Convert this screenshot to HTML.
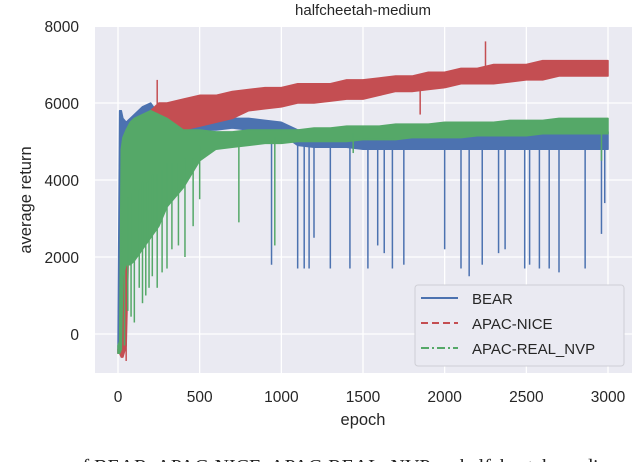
<!DOCTYPE html>
<html><head><meta charset="utf-8"><style>
html,body{margin:0;padding:0;background:#fff;width:640px;height:462px;overflow:hidden}
svg text{font-family:"Liberation Sans",sans-serif}
</style></head><body>
<svg id="chart" width="640" height="462">
<rect x="95" y="27" width="537" height="346" fill="#eaeaf2"/>
<g id="grid"></g>
<g id="series"></g>
<g id="ticks" font-size="15.5" fill="#262626"></g>
<text x="363" y="15" text-anchor="middle" font-size="15" fill="#262626">halfcheetah-medium</text>
<text x="363" y="425" text-anchor="middle" font-size="16.5" fill="#262626">epoch</text>
<text transform="translate(31,200) rotate(-90)" text-anchor="middle" font-size="16.5" fill="#262626">average return</text>
<g>
<rect x="415" y="285" width="209" height="81" rx="3" fill="#eaeaf2" stroke="#cfcfd6"/>
<line x1="421" y1="298" x2="458" y2="298" stroke="#4c72b0" stroke-width="2"/>
<text x="472" y="304" font-size="15" fill="#262626">BEAR</text>
<line x1="421" y1="323" x2="458" y2="323" stroke="#c44e52" stroke-width="2" stroke-dasharray="7,4"/>
<text x="472" y="329" font-size="15" fill="#262626">APAC-NICE</text>
<line x1="421" y1="348" x2="458" y2="348" stroke="#55a868" stroke-width="2" stroke-dasharray="8,3,2,3"/>
<text x="472" y="354" font-size="15" fill="#262626">APAC-REAL_NVP</text>
</g>
<text x="-8" y="473" font-size="20" fill="#222" style="font-family:'Liberation Serif',serif">formance of BEAR, APAC-NICE, APAC-REAL_NVP on halfcheetah-medium</text>
</svg>
<script>
const epochs=[0,10,20,30,50,75,100,150,200,250,300,400,500,600,700,800,900,1000,1100,1200,1300,1400,1500,1600,1700,1800,1900,2000,2100,2200,2300,2400,2500,2600,2700,2800,2900,3000];
const bearHi=[-400,5800,5800,5600,5500,5600,5700,5900,6000,5700,5600,5600,5600,5600,5600,5600,5550,5500,5300,5300,5300,5300,5300,5300,5300,5300,5300,5300,5300,5300,5300,5300,5300,5300,5300,5300,5300,5250];
const bearLo=[-500,-400,4500,4900,4900,5000,5000,5100,5150,5200,5200,5200,5300,5300,5350,5300,5250,5200,4900,4850,4850,4850,4800,4800,4800,4800,4800,4800,4800,4800,4800,4800,4800,4800,4800,4800,4800,4800];
const niceHi=[-400,-300,500,3000,4800,5300,5300,5600,5800,6000,6000,6100,6200,6200,6300,6350,6400,6400,6500,6500,6500,6600,6600,6650,6700,6700,6800,6800,6900,6900,7000,7000,7000,7100,7100,7100,7100,7100];
const niceLo=[-500,-500,-600,-600,-300,4000,4900,5000,5000,5100,5200,5300,5400,5500,5600,5800,5850,5900,6000,6000,6050,6100,6100,6200,6300,6300,6350,6400,6500,6500,6500,6550,6600,6600,6700,6700,6700,6700];
const nvpHi=[-300,-200,4800,5100,5300,5500,5600,5700,5800,5700,5600,5300,5300,5250,5250,5300,5300,5300,5300,5350,5350,5400,5400,5400,5450,5450,5450,5500,5500,5500,5500,5550,5550,5550,5600,5600,5600,5600];
const nvpLo=[-500,-500,-400,1500,1800,1800,1900,2200,2500,2800,3300,3800,4500,4800,4850,4900,4950,4950,5000,5000,5000,5000,5050,5050,5050,5100,5100,5100,5100,5150,5150,5150,5150,5200,5200,5200,5200,5200];
const bearSpikeEpochs=[940,1100,1140,1170,1200,1300,1420,1530,1590,1630,1680,1750,2000,2100,2150,2230,2330,2370,2490,2520,2580,2640,2700,2860,2960,2980];
const bearSpikeValues=[1800,1700,1700,1700,2500,1700,1700,1700,2300,2100,1700,1800,2200,1700,1500,1800,2100,2200,1700,1800,1700,1700,1600,1700,2600,3400];
const niceSpikeEpochs=[2250,1850,240,50];
const niceSpikeValues=[7600,5700,6600,-700];
const nvpSpikeEpochs=[740,960,2960,1440,40,60,80,100,130,150,170,190,210,240,270,300,330,370,410,460,500];
const nvpSpikeValues=[2900,2300,4500,4700,-300,600,450,300,1200,800,1000,1200,1500,1200,1600,1700,2200,2300,2000,2800,3500];
const xTicks=[0,500,1000,1500,2000,2500,3000];
const yTicks=[0,2000,4000,6000,8000];

const X=e=>118+e*(490/3000);
const Y=v=>334-v*(77/2000);
const NS="http://www.w3.org/2000/svg";
const grid=document.getElementById('grid'),ser=document.getElementById('series'),tk=document.getElementById('ticks');
function mk(tag,attrs,parent){const el=document.createElementNS(NS,tag);for(const k in attrs)el.setAttribute(k,attrs[k]);parent.appendChild(el);return el;}
xTicks.forEach(t=>{
  const l=mk('line',{x1:X(t),x2:X(t),y1:27,y2:373,stroke:'#fff','stroke-width':1.3},grid);
  
  
  const tx=mk('text',{x:X(t),y:402,'text-anchor':'middle'},tk);tx.textContent=t;
  
  
});
yTicks.forEach(t=>{
  const l=mk('line',{x1:95,x2:632,y1:Y(t),y2:Y(t),stroke:'#fff','stroke-width':1.3},grid);
  
  
  const tx=mk('text',{x:79,y:Y(t)+6,'text-anchor':'end'},tk);tx.textContent=t;
  
  
});
function band(hi,lo,se,sv,color,name){
  const g=mk('g',{},ser);
  
  
  let pts=epochs.map((e,i)=>X(e)+','+Y(hi[i]));
  for(let i=epochs.length-1;i>=0;i--)pts.push(X(epochs[i])+','+Y(lo[i]));
  const p=mk('polygon',{points:pts.join(' '),fill:color,stroke:color,'stroke-width':1.5,'stroke-linejoin':'round'},g);
  
  
  se.forEach((e,i)=>{
    let j=0;while(j<epochs.length-1&&epochs[j+1]<=e)j++;
    const base=(hi[j]+lo[j])/2;
    const s=mk('line',{x1:X(e),x2:X(e),y1:Y(base),y2:Y(sv[i]),stroke:color,'stroke-width':1.5},g);
    
    
  });
}
band(bearHi,bearLo,bearSpikeEpochs,bearSpikeValues,'#4c72b0','bear-series');
band(niceHi,niceLo,niceSpikeEpochs,niceSpikeValues,'#c44e52','apac-nice-series');
band(nvpHi,nvpLo,nvpSpikeEpochs,nvpSpikeValues,'#55a868','apac-real-nvp-series');
</script>
</body></html>
